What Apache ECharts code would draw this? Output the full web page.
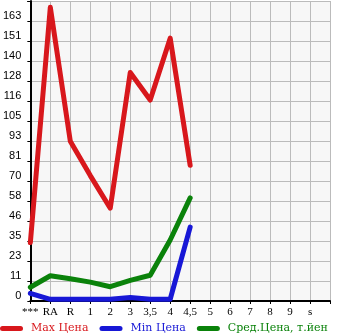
<!DOCTYPE html>
<html>
<head>
<meta charset="utf-8">
<script src="https://cdn.jsdelivr.net/npm/echarts@6/dist/echarts.min.js"></script>
<style>
html,body{margin:0;padding:0;background:#fff;}
#chart{width:345px;height:335px;}
</style>
</head>
<body>
<div id="chart"></div>
<script>
var categories = ['***', 'RA', 'R', '1', '2', '3', '3,5', '4', '4,5', '5', '6', '7', '8', '9', 's', ''];
var maxPrice = [34, 171, 93, 73, 54, 133, 117, 153, 79];
var minPrice = [4.5, 1, 1, 1, 1, 2, 1, 1, 43];
var avgPrice = [8, 14.7, 13, 11, 8.3, 12, 15, 35.5, 60];
var yTickLabels = ['0', '11', '23', '35', '46', '58', '70', '81', '93', '105', '116', '128', '140', '151', '163'];
var seriesNames = ['Max Цена', 'Min Цена', 'Сред.Цена, т.йен'];
var colors = ['#d8171c', '#1717d6', '#0a820a'];

var step = 163 / 14;

var chart = echarts.init(document.getElementById('chart'));
function lineSeries(name, data, color) {
  return {
    name: name,
    type: 'line',
    data: data,
    showSymbol: false,
    symbol: 'none',
    lineStyle: { color: color, width: 5, cap: 'round', join: 'round' },
    itemStyle: { color: color },
    animation: false
  };
}
chart.setOption({
  animation: false,
  color: colors,
  grid: {
    left: 30, right: 15, top: 1, bottom: 34,
    show: true, backgroundColor: '#f7f7f7', borderWidth: 0
  },
  legend: {
    left: 0, bottom: 1, padding: 0,
    itemWidth: 23, itemHeight: 5, itemGap: 11,
    icon: 'path://M2.5,0 L20.5,0 A2.5,2.5 0 0 1 20.5,5 L2.5,5 A2.5,2.5 0 0 1 2.5,0 Z',
    data: seriesNames.map(function (n, i) {
      return { name: n, textStyle: { color: colors[i] } };
    }),
    textStyle: { fontFamily: 'DejaVu Serif', fontSize: 11, padding: [0, 0, 0, 3] }
  },
  xAxis: {
    type: 'category',
    data: categories,
    boundaryGap: false,
    axisLine: { lineStyle: { color: '#000', width: 2 } },
    axisTick: { show: true, length: 3, lineStyle: { color: '#000', width: 1 }, interval: 0 },
    axisLabel: { interval: 0, color: '#000', fontFamily: 'Liberation Serif', fontSize: 11, margin: 6 },
    splitLine: { show: true, interval: 0, lineStyle: { color: '#bbbbbb', width: 1 } }
  },
  yAxis: {
    type: 'value',
    min: 0,
    max: step * 15,
    interval: step,
    axisLine: { show: true, lineStyle: { color: '#000', width: 2 } },
    axisTick: { show: true, length: 3, lineStyle: { color: '#000', width: 1 } },
    axisLabel: {
      color: '#000', fontFamily: 'Liberation Sans', fontSize: 11, margin: 9,
      verticalAlign: 'bottom',
      formatter: function (v) {
        var i = Math.round(v / step);
        return yTickLabels[i] !== undefined ? yTickLabels[i] : '';
      }
    },
    splitLine: { show: true, lineStyle: { color: '#bbbbbb', width: 1 } }
  },
  series: [
    lineSeries(seriesNames[0], maxPrice, colors[0]),
    lineSeries(seriesNames[1], minPrice, colors[1]),
    lineSeries(seriesNames[2], avgPrice, colors[2])
  ]
});
</script>
</body>
</html>
